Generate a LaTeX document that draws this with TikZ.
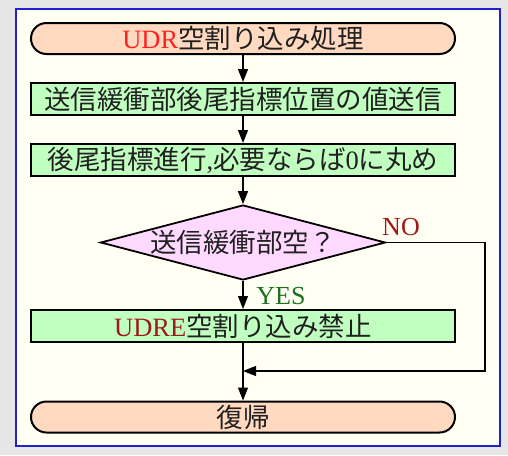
\documentclass[tikz,border=0pt]{standalone}
\usepackage{fontspec}
\setmainfont{Liberation Serif}
\newfontfamily\jp{Noto Sans CJK JP}
\usetikzlibrary{arrows.meta,shapes.geometric}
\definecolor{bggray}{HTML}{E6E6E6}
\definecolor{ivory}{HTML}{FFFFF4}
\definecolor{frameblue}{HTML}{2222CC}
\definecolor{peach}{HTML}{FFD9C0}
\definecolor{lgreen}{HTML}{C0FFC0}
\definecolor{lpink}{HTML}{FFD9FF}
\definecolor{brred}{HTML}{FF2020}
\definecolor{dkred}{HTML}{A01818}
\definecolor{dkgreen}{HTML}{207020}
\definecolor{txt}{HTML}{202020}
\tikzset{
  x=1pt, y=1pt,
  big/.style={font=\fontsize{26.5}{28}\selectfont, text=txt},
  term/.style={big, draw=black, line width=2pt, fill=peach, rounded corners=15.5pt,
    minimum width=424pt, minimum height=31pt, inner sep=0pt},
  procbox/.style={big, draw=black, line width=2pt, fill=lgreen,
    minimum width=424pt, minimum height=32pt, inner sep=0pt},
  decide/.style={big, draw=black, line width=1.8pt, fill=lpink, diamond, aspect=3.8,
    minimum width=285pt, minimum height=75pt, inner sep=0pt},
  conn/.style={line width=1.3pt, -{Stealth[length=13pt,width=10pt,inset=0pt]}},
  lbl/.style={font=\fontsize{26}{28}\selectfont}
}
\begin{document}
\begin{tikzpicture}
\fill[bggray] (0,0) rectangle (508,-455);
\draw[frameblue, line width=2pt, fill=ivory] (16,-9) rectangle (500,-446);
\useasboundingbox (0,0) rectangle (508,-455);

\node[term] (start) at (243,-38.5) {\textcolor{brred}{UDR}{\jp 空割り込み処理}};
\node[procbox] (b1) at (243,-99) {\jp 送信緩衝部後尾指標位置の値送信};
\node[procbox] (b2) at (243,-160) {{\jp 後尾指標進行},{\jp 必要ならば}0{\jp に丸め}};
\node[decide] (d) at (243,-242.5) {\jp 送信緩衝部空？};
\node[procbox] (b3) at (243,-326) {\textcolor{dkred}{UDRE}{\jp 空割り込み禁止}};
\node[term] (end) at (243,-417) {\jp 復帰};

\coordinate (merge) at (243,-371);
\coordinate (nor) at (485,-242.5);
\coordinate (nobot) at (485,-371);

\draw[conn] (start) -- (b1);
\draw[conn] (b1) -- (b2);
\draw[conn] (b2) -- (d);
\draw[conn] (d) -- (b3);
\draw[conn] (b3) -- (end);
\draw[line width=1.1pt, -{Stealth[length=13pt,width=10pt,inset=0pt]}]
  (d.east) -- (nor) -- (nobot) -- (merge);

\node[lbl, text=dkred] (nolbl) at (401,-227) {NO};
\node[lbl, text=dkgreen] (yeslbl) at (281,-296) {YES};
\end{tikzpicture}
\end{document}
